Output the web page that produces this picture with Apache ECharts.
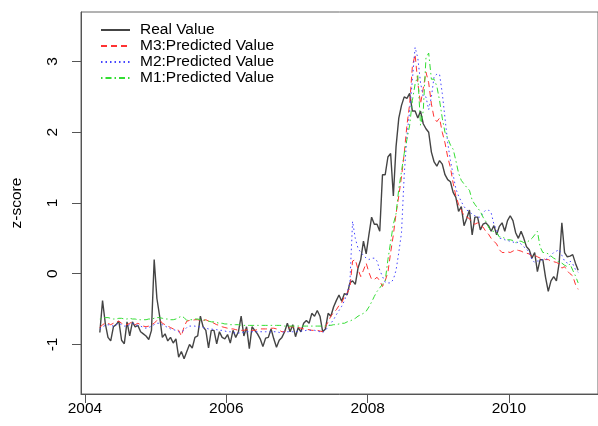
<!DOCTYPE html>
<html><head><meta charset="utf-8">
<script src="https://cdn.jsdelivr.net/npm/echarts@6/dist/echarts.min.js"></script>
<style>html,body{margin:0;padding:0;background:#fff}#c{width:598px;height:426px}</style>
</head><body><div id="c"></div>
<script>
// time grid: biweekly observations starting 2004.21
const START_YEAR = 2004.21;
const STEP_YEARS = 1 / 26;
const xTicks = [2004, 2006, 2008, 2010];
const yTicks = [-1, 0, 1, 2, 3];
const names = ['Real Value', 'M3:Predicted Value', 'M2:Predicted Value', 'M1:Predicted Value'];

const realValue = [
-0.83,-0.38,-0.7,-0.9,-0.95,-0.75,-0.72,-0.67,-0.94,-0.99,
-0.68,-0.88,-0.68,-0.75,-0.73,-0.82,-0.85,-0.88,-0.93,-0.8,
0.2,-0.35,-0.6,-0.9,-0.85,-0.95,-0.9,-0.98,-0.92,-1.18,
-1.1,-1.2,-1.1,-1.0,-1.05,-0.9,-0.88,-0.6,-0.75,-0.8,
-1.05,-0.8,-0.8,-0.99,-0.82,-0.9,-0.92,-0.86,-0.98,-0.8,
-0.9,-0.82,-0.6,-0.88,-0.75,-1.06,-0.75,-0.8,-0.85,-0.92,
-1.03,-0.91,-0.9,-0.78,-0.92,-1.04,-0.94,-0.9,-0.82,-0.7,
-0.82,-0.72,-0.89,-0.76,-0.82,-0.7,-0.66,-0.7,-0.56,-0.6,
-0.52,-0.6,-0.82,-0.78,-0.56,-0.6,-0.47,-0.38,-0.3,-0.39,
-0.28,-0.3,-0.13,-0.1,-0.15,0.08,0.2,0.46,0.28,0.55,
0.8,0.7,0.7,0.6,1.4,1.4,1.65,1.7,1.1,1.8,
2.2,2.38,2.5,2.48,2.55,2.3,2.3,2.2,2.3,2.12,
2.05,2.0,1.72,1.58,1.52,1.6,1.55,1.4,1.33,1.3,
1.15,1.08,0.88,0.95,0.68,0.78,0.9,0.55,0.8,0.8,
0.62,0.7,0.72,0.68,0.6,0.68,0.55,0.67,0.72,0.6,
0.75,0.82,0.75,0.58,0.5,0.6,0.5,0.38,0.34,0.22,
0.3,0.03,0.2,0.2,-0.05,-0.25,-0.1,-0.04,-0.1,0.15,
0.72,0.3,0.24,0.25,0.27,0.15,0.05
];
const m3Pred = [
-0.76,-0.72,-0.7,-0.7,-0.72,-0.7,-0.68,-0.67,-0.7,-0.72,
-0.72,-0.7,-0.68,-0.72,-0.7,-0.72,-0.74,-0.75,-0.74,-0.72,
-0.7,-0.66,-0.65,-0.7,-0.72,-0.74,-0.76,-0.78,-0.79,-0.8,
-0.88,-0.75,-0.67,-0.66,-0.66,-0.65,-0.65,-0.66,-0.66,-0.65,
-0.67,-0.68,-0.7,-0.72,-0.73,-0.75,-0.76,-0.77,-0.78,-0.78,
-0.79,-0.8,-0.8,-0.8,-0.79,-0.79,-0.8,-0.8,-0.79,-0.78,
-0.78,-0.78,-0.78,-0.77,-0.77,-0.78,-0.8,-0.82,-0.82,-0.78,
-0.75,-0.75,-0.76,-0.76,-0.77,-0.78,-0.79,-0.79,-0.8,-0.8,
-0.8,-0.81,-0.82,-0.75,-0.68,-0.6,-0.55,-0.51,-0.45,-0.41,
-0.32,-0.27,-0.2,0.18,0.2,0.06,-0.04,0.05,0.15,0.02,
-0.08,-0.08,-0.05,-0.1,-0.18,-0.1,0.02,0.3,0.55,0.85,
1.1,1.37,1.7,2.1,2.4,2.93,3.1,2.7,2.4,2.62,
2.85,2.7,2.4,2.2,2.15,2.2,2.0,1.85,1.65,1.5,
1.28,1.1,0.98,0.9,0.82,0.8,0.78,0.72,0.7,0.72,
0.68,0.66,0.6,0.56,0.5,0.46,0.42,0.34,0.3,0.3,
0.31,0.3,0.32,0.34,0.33,0.32,0.3,0.29,0.28,0.24,
0.26,0.24,0.22,0.22,0.2,0.2,0.18,0.17,0.16,0.14,
0.08,0.1,0.04,0.0,-0.03,-0.15,-0.22
];
const m2Pred = [
-0.78,-0.75,-0.73,-0.72,-0.73,-0.74,-0.72,-0.7,-0.72,-0.74,
-0.74,-0.72,-0.7,-0.72,-0.73,-0.74,-0.76,-0.77,-0.76,-0.74,
-0.72,-0.7,-0.7,-0.72,-0.74,-0.76,-0.78,-0.79,-0.8,-0.82,
-0.82,-0.8,-0.76,-0.74,-0.74,-0.74,-0.75,-0.75,-0.76,-0.77,
-0.78,-0.78,-0.79,-0.79,-0.8,-0.8,-0.81,-0.82,-0.82,-0.83,
-0.84,-0.84,-0.83,-0.83,-0.82,-0.82,-0.82,-0.82,-0.82,-0.82,
-0.82,-0.82,-0.82,-0.82,-0.82,-0.82,-0.83,-0.83,-0.82,-0.82,
-0.82,-0.82,-0.82,-0.81,-0.81,-0.81,-0.8,-0.8,-0.8,-0.8,
-0.81,-0.82,-0.83,-0.8,-0.75,-0.7,-0.65,-0.58,-0.52,-0.46,
-0.38,-0.27,-0.13,0.74,0.5,0.36,0.3,0.26,0.22,0.2,
0.22,0.22,0.18,0.05,-0.04,-0.12,-0.13,-0.13,-0.08,0.05,
0.3,0.58,1.4,1.95,2.3,2.74,3.2,3.05,2.7,2.5,
2.5,2.32,2.5,2.79,2.82,2.82,2.55,2.2,1.85,1.6,
1.4,1.2,1.1,1.02,0.95,0.9,0.88,0.84,0.82,0.8,
0.8,0.86,0.9,0.9,0.86,0.7,0.62,0.5,0.5,0.48,
0.47,0.46,0.45,0.43,0.45,0.42,0.38,0.35,0.3,0.2,
0.16,0.18,0.18,0.2,0.2,0.22,0.26,0.3,0.32,0.34,
0.26,0.18,0.15,0.18,0.14,0.06,0.02
];
const m1Pred = [
-0.64,-0.63,-0.62,-0.62,-0.63,-0.64,-0.64,-0.63,-0.63,-0.64,
-0.64,-0.63,-0.64,-0.64,-0.65,-0.65,-0.65,-0.65,-0.64,-0.64,
-0.63,-0.62,-0.62,-0.63,-0.64,-0.64,-0.65,-0.65,-0.64,-0.62,
-0.6,-0.62,-0.66,-0.65,-0.65,-0.64,-0.64,-0.65,-0.65,-0.66,
-0.67,-0.68,-0.68,-0.69,-0.7,-0.7,-0.71,-0.71,-0.72,-0.72,
-0.72,-0.72,-0.73,-0.73,-0.73,-0.73,-0.73,-0.73,-0.73,-0.73,
-0.73,-0.73,-0.73,-0.73,-0.73,-0.73,-0.73,-0.73,-0.74,-0.74,
-0.74,-0.74,-0.74,-0.74,-0.74,-0.74,-0.74,-0.74,-0.74,-0.74,
-0.74,-0.74,-0.74,-0.74,-0.73,-0.73,-0.72,-0.72,-0.71,-0.7,
-0.7,-0.68,-0.67,-0.65,-0.63,-0.6,-0.58,-0.56,-0.53,-0.47,
-0.4,-0.32,-0.25,-0.2,-0.15,-0.1,0.2,0.45,0.7,0.85,
1.2,1.45,1.7,1.9,2.1,2.45,2.68,2.8,2.1,2.3,
3.05,3.12,2.75,2.75,2.65,2.45,2.2,2.0,1.92,1.82,
1.76,1.6,1.42,1.32,1.27,1.22,1.18,1.04,0.98,0.93,
0.88,0.8,0.74,0.66,0.6,0.6,0.58,0.52,0.52,0.5,
0.48,0.48,0.47,0.44,0.46,0.46,0.44,0.44,0.47,0.5,
0.55,0.6,0.38,0.3,0.3,0.28,0.25,0.22,0.2,0.16,
0.15,0.12,0.1,0.14,0.05,-0.03,-0.13
];

const toPairs = arr => arr.map((v, i) => [START_YEAR + i * STEP_YEARS, v]);
const FONT = '"Liberation Sans", Arial, sans-serif';
const chart = echarts.init(document.getElementById('c'), null, {renderer: 'canvas'});
const mk = (name, data, color, width, dash, z) => ({
  name, type: 'line', data: toPairs(data), symbol: 'none', z,
  lineStyle: {color, width, type: dash}, itemStyle: {color}, animation: false
});
chart.setOption({
  animation: false,
  backgroundColor: '#fff',
  grid: {left: 81, top: 12, width: 518, height: 382, show: true, borderColor: '#666', borderWidth: 1},
  legend: {
    orient: 'vertical', left: 95, top: 17, itemWidth: 29, itemHeight: 16, itemGap: 0,
    data: names,
    itemStyle: {opacity: 0},
    textStyle: {fontFamily: FONT, fontSize: 15.5, color: '#000', lineHeight: 16, padding: [0, 0, 0, 5]}
  },
  xAxis: {
    type: 'value', min: 2003.9435, max: 2011.26,
    splitLine: {show: false},
    axisLine: {show: true, onZero: false, lineStyle: {color: '#555'}},
    axisTick: {show: true, customValues: xTicks, length: 9, lineStyle: {color: '#555'}},
    axisLabel: {customValues: xTicks, margin: 7, fontFamily: FONT, fontSize: 15.5, color: '#000', formatter: v => String(v)}
  },
  yAxis: {
    type: 'value', min: -1.7, max: 3.7,
    name: 'z-score', nameLocation: 'middle', nameRotate: 90, nameGap: 56,
    nameTextStyle: {fontFamily: FONT, fontSize: 15.5, color: '#000'},
    splitLine: {show: false},
    axisLine: {show: true, onZero: false, lineStyle: {color: '#555'}},
    axisTick: {show: true, customValues: yTicks, length: 9, lineStyle: {color: '#555'}},
    axisLabel: {customValues: yTicks, rotate: 90, margin: 20, fontFamily: FONT, fontSize: 15.5, color: '#000', formatter: v => String(v)}
  },
  series: [
    mk(names[0], realValue, '#444444', 1.4, 'solid', 2),
    mk(names[1], m3Pred, '#ff3333', 1, [6, 4], 3),
    mk(names[2], m2Pred, '#4444ff', 1, [1.5, 3], 4),
    mk(names[3], m1Pred, '#33dd33', 1, [1.5, 3, 6, 3], 5)
  ]
});
</script></body></html>
